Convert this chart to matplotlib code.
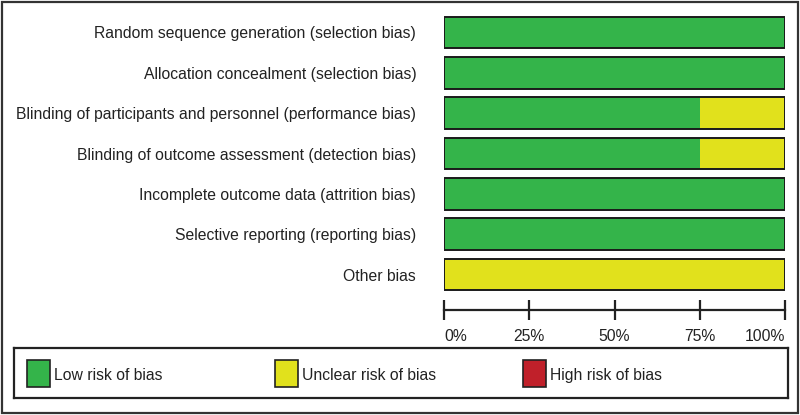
import matplotlib.pyplot as plt
from matplotlib.patches import Rectangle

domains = [
    'Random sequence generation (selection bias)',
    'Allocation concealment (selection bias)',
    'Blinding of participants and personnel (performance bias)',
    'Blinding of outcome assessment (detection bias)',
    'Incomplete outcome data (attrition bias)',
    'Selective reporting (reporting bias)',
    'Other bias',
]
low = [100, 100, 75, 75, 100, 100, 0]
unclear = [0, 0, 25, 25, 0, 0, 100]
high = [0, 0, 0, 0, 0, 0, 0]

ticks = [0, 25, 50, 75, 100]
tick_labels = ['0%', '25%', '50%', '75%', '100%']
legend_names = ['Low risk of bias', 'Unclear risk of bias', 'High risk of bias']
colors = ['#34b44a', '#e1e11c', '#c0202a']

plt.rcParams['font.family'] = ['Liberation Sans', 'DejaVu Sans']
W, H = 800, 415
FS = 11.3
fig = plt.figure(figsize=(8, 4.15), dpi=100)


def box(x0, y0, x1, y1):
    # pixel coords from top-left -> figure fraction rect
    return [x0 / W, 1 - y1 / H, (x1 - x0) / W, (y1 - y0) / H]


ax = fig.add_axes(box(444, 12.3, 785, 294.7))
ypos = range(len(domains))
left = [0] * len(domains)
for vals, c in zip([low, unclear, high], colors):
    ax.barh(ypos, vals, left=left, height=0.79, color=c, edgecolor='none')
    left = [a + b for a, b in zip(left, vals)]
ax.barh(ypos, [100] * len(domains), height=0.79, fill=False,
        edgecolor='#1a1a1a', linewidth=1.4)
ax.set_xlim(0, 100)
ax.set_ylim(len(domains) - 0.5, -0.5)
ax.set_yticks(list(ypos))
ax.set_yticklabels(domains, fontsize=FS, color='#222222')
ax.tick_params(axis='y', length=0, pad=20)
ax.set_xticks([])
for s in ax.spines.values():
    s.set_visible(False)

# percentage scale
sx = fig.add_axes(box(444, 300, 785, 310))
sx.set_xlim(0, 100)
sx.set_yticks([])
for k in ['top', 'left', 'right']:
    sx.spines[k].set_visible(False)
sx.spines['bottom'].set_linewidth(1.6)
sx.spines['bottom'].set_color('#222222')
sx.set_xticks(ticks)
sx.set_xticklabels(tick_labels, fontsize=FS, color='#222222')
sx.tick_params(axis='x', direction='inout', length=15, width=1.6,
               color='#222222', pad=6)
labs = sx.get_xticklabels()
labs[0].set_ha('left')
labs[-1].set_ha('right')
sx.patch.set_visible(False)

# legend box
lg = fig.add_axes(box(14, 348, 788, 398))
lg.set_xlim(14, 788)
lg.set_ylim(398, 348)
lg.set_xticks([])
lg.set_yticks([])
for s in lg.spines.values():
    s.set_linewidth(1.6)
    s.set_color('#222222')
for i, (name, c) in enumerate(zip(legend_names, colors)):
    x0 = 27 + i * 248
    lg.add_patch(Rectangle((x0, 360), 23, 27, facecolor=c,
                           edgecolor='#222222', linewidth=1.2))
    lg.text(x0 + 27, 375, name, fontsize=FS, color='#222222',
            va='center', ha='left')

# outer frame
fig.add_artist(Rectangle((0.003, 0.005), 0.994, 0.99, transform=fig.transFigure,
                         fill=False, edgecolor='#333333', linewidth=1.6))

fig.savefig('out.png', dpi=100, facecolor='white')
